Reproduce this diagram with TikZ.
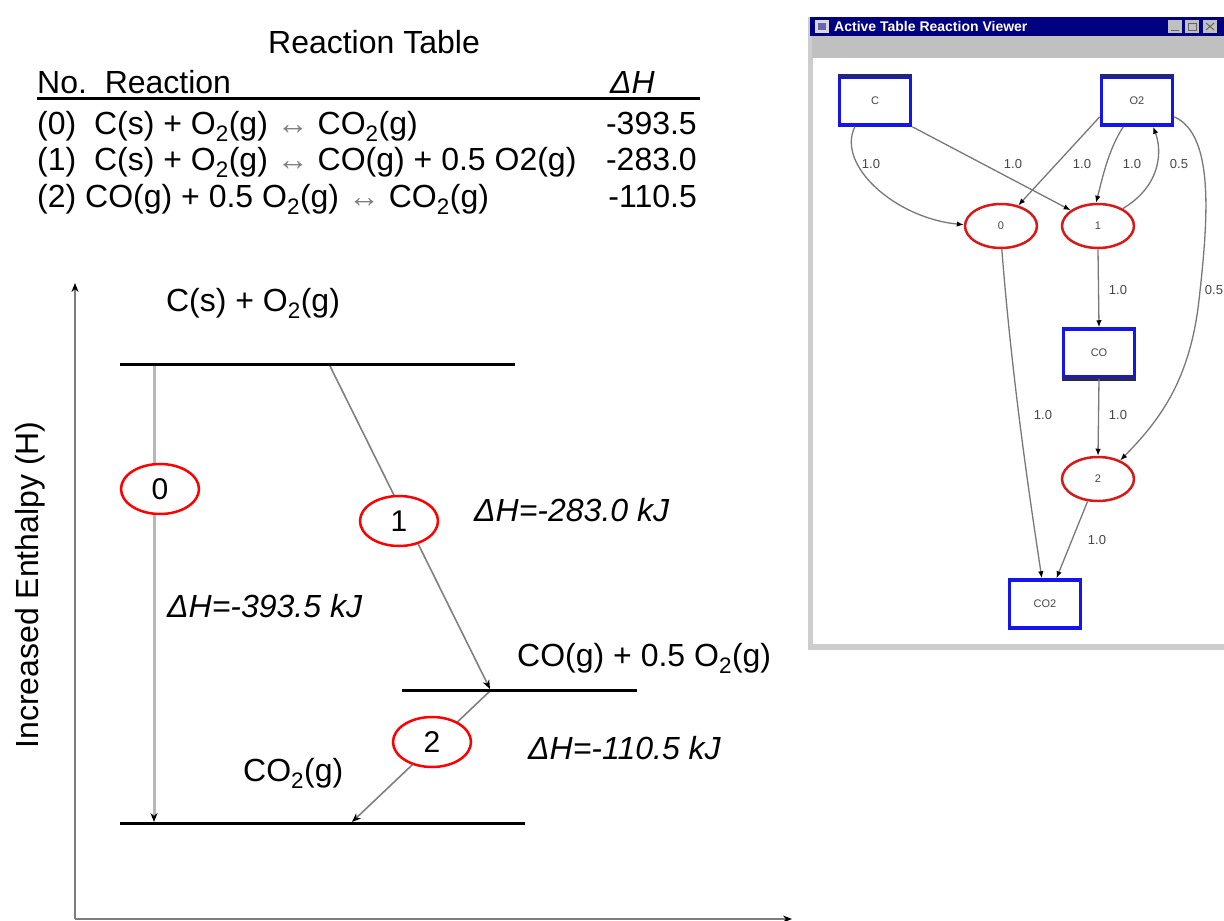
\documentclass[tikz,border=0pt]{standalone}
\usepackage{fontspec}
\setmainfont{Liberation Sans}
\usetikzlibrary{shapes.geometric,arrows.meta}
\definecolor{navy}{RGB}{0,0,128}
\definecolor{menugray}{RGB}{192,192,192}
\definecolor{winborder}{RGB}{205,205,205}
\definecolor{axisgray}{RGB}{125,125,125}
\definecolor{edgegray}{RGB}{120,120,120}
\definecolor{boxblue}{RGB}{20,20,235}
\definecolor{boxdark}{RGB}{40,40,90}
\definecolor{ringred}{RGB}{215,25,25}
\definecolor{txtgray}{RGB}{70,70,70}
\tikzset{
  big/.style={font=\fontsize{32}{36}\selectfont, inner sep=0pt},
  dh/.style={font=\fontsize{32}{36}\selectfont\itshape, inner sep=0pt},
  level/.style={line width=3pt, black},
  axisline/.style={draw=axisgray, line width=2.5pt, -{Stealth[length=9pt,width=7pt,color=black]}},
  rxnL/.style={ellipse, draw=red, line width=2.5pt, fill=white, minimum width=78pt, minimum height=50pt, inner sep=0pt, font=\fontsize{30}{30}\selectfont},
  pathzero/.style={draw=black!28, line width=3pt, -{Stealth[length=9pt,width=7pt,color=black]}},
  paththin/.style={draw=black!50, line width=1.6pt, -{Stealth[length=9pt,width=7pt,color=black]}},
  spbox/.style={rectangle, draw=boxblue, line width=3.5pt, fill=white, minimum width=71pt, minimum height=48pt, inner sep=0pt, font=\fontsize{11}{11}\selectfont, text=txtgray},
  rxnR/.style={ellipse, draw=ringred, line width=2.5pt, fill=white, minimum width=72pt, minimum height=44pt, inner sep=0pt, font=\fontsize{11}{11}\selectfont, text=txtgray},
  edge/.style={draw=edgegray, line width=1.3pt, -{Latex[length=7pt,width=5.5pt,color=black]}},
  elab/.style={font=\fontsize{13}{13}\selectfont, text=txtgray, inner sep=0pt},
  darkedge/.style={draw=boxdark, line width=3.5pt}
}
\begin{document}
\begin{tikzpicture}[x=1pt,y=-1pt]
\useasboundingbox (0,0) rectangle (1224,921);
\fill[white] (0,0) rectangle (1224,921);

% ---------------- Reaction table ----------------
\node[big, anchor=base] (ttl) at (374,53) {Reaction Table};
\node[big, anchor=base west] (hdr) at (37,93) {No.\ \ Reaction};
\node[dh, anchor=base east] (hdh) at (655,93) {ΔH};
\coordinate (rulel) at (37,98);
\coordinate (ruler) at (700,98);
\draw[line width=3pt] (rulel) -- (ruler);
\node[big, anchor=base west] (row0) at (37,134) {(0)\ \ C(s) + O\textsubscript{2}(g) {\color{gray}↔} CO\textsubscript{2}(g)};
\node[big, anchor=base west] (row1) at (37,170) {(1)\ \ C(s) + O\textsubscript{2}(g) {\color{gray}↔} CO(g) + 0.5 O2(g)};
\node[big, anchor=base west] (row2) at (37,207) {(2) CO(g) + 0.5 O\textsubscript{2}(g) {\color{gray}↔} CO\textsubscript{2}(g)};
\node[big, anchor=base east] (v0) at (697,134) {-393.5};
\node[big, anchor=base east] (v1) at (697,170) {-283.0};
\node[big, anchor=base east] (v2) at (697,207) {-110.5};

% ---------------- Enthalpy diagram ----------------
\coordinate (org) at (75,919);
\coordinate (ytop) at (75,283);
\coordinate (xend) at (792,919);
\draw[axisline] (org) -- (ytop);
\draw[axisline] (org) -- (xend);
\node[big, rotate=90] (ylab) at (30,585) {Increased Enthalpy (H)};

\coordinate (tl) at (120,364); \coordinate (tr) at (515,364);
\coordinate (ml) at (402,690); \coordinate (mr) at (637,690);
\coordinate (bl) at (120,823); \coordinate (br) at (525,823);

\coordinate (a0s) at (154,366); \coordinate (a0e) at (154,822);
\coordinate (a1s) at (330,366); \coordinate (a1e) at (490,689);
\coordinate (a2s) at (490,691); \coordinate (a2e) at (352,822);
\draw[pathzero] (a0s) -- (a0e);
\draw[paththin] (a1s) -- (a1e);
\draw[paththin] (a2s) -- (a2e);

\draw[level] (tl) -- (tr);
\draw[level] (ml) -- (mr);
\draw[level] (bl) -- (br);

\node[rxnL] (c0) at (160,489) {0};
\node[rxnL] (c1) at (399,521) {1};
\node[rxnL] (c2) at (432,742) {2};

\node[big, anchor=base] (ltop) at (253,311) {C(s) + O\textsubscript{2}(g)};
\node[big, anchor=base west] (lmid) at (517,666) {CO(g) + 0.5 O\textsubscript{2}(g)};
\node[big, anchor=base west] (lbot) at (243,781) {CO\textsubscript{2}(g)};
\node[dh, anchor=base west] (dh1) at (474,521) {ΔH=-283.0 kJ};
\node[dh, anchor=base west] (dh0) at (167,617) {ΔH=-393.5 kJ};
\node[dh, anchor=base west] (dh2) at (528,759) {ΔH=-110.5 kJ};

% ---------------- Viewer window ----------------
\fill[winborder] (808,17) rectangle (1224,650);
\fill[navy] (810,17) rectangle (1224,36);
\fill[menugray] (812,36) rectangle (1224,58);
\fill[white] (813,58) rectangle (1224,644);
\fill[black!15] (815,20) rectangle (829,33);
\fill[navy!60] (818,23) rectangle (826,30);
\node[anchor=west, text=white, font=\bfseries\fontsize{14}{14}\selectfont, inner sep=0pt] (wtitle) at (834,26.5) {Active Table Reaction Viewer};
\fill[menugray] (1168,20) rectangle (1182,33);
\fill[menugray] (1185,20) rectangle (1199,33);
\fill[menugray] (1203,20) rectangle (1217,33);
\draw[black!60, line width=1pt] (1171,30) -- (1179,30);
\draw[black!60, line width=1pt] (1188,23) rectangle (1196,30);
\draw[black!60, line width=1pt] (1206,23) -- (1214,30) (1214,23) -- (1206,30);

\node[spbox] (nC) at (875,101) {C};
\node[spbox] (nO2) at (1137,101) {O2};
\node[spbox] (nCO) at (1099,353) {CO};
\node[spbox] (nCO2) at (1045,604) {CO2};
\draw[darkedge] (nC.north west) -- (nC.north east);
\draw[darkedge] (nO2.north west) -- (nO2.north east);
\draw[darkedge] (nCO.south west) -- (nCO.south east);
\node[rxnR] (r0) at (1001,226) {0};
\node[rxnR] (r1) at (1098,226) {1};
\node[rxnR] (r2) at (1098,479) {2};

\draw[edge] (nC.232) .. controls (836,165) and (895,218) .. (r0.178);
\draw[edge] (nC.south east) -- (r1.150);
\draw[edge] (nO2.203) -- (r0.50);
\draw[edge] (nO2.242) .. controls (1108,150) and (1102,180) .. (r1.95);
\draw[edge] (r1.35) .. controls (1162,185) and (1162,150) .. (nO2.302);
\draw[edge] (nO2.337) .. controls (1215,135) and (1208,220) .. (1199,300) .. controls (1190,380) and (1160,420) .. (r2.40);
\draw[edge] (r1.south) -- (nCO.north);
\draw[edge] (nCO.south) -- (r2.north);
\draw[edge] (r0.272) .. controls (1012,380) and (1030,500) .. (nCO2.97);
\draw[edge] (r2.245) -- (nCO2.66);

\node[elab] (l1) at (871,164) {1.0};
\node[elab] (l2) at (1013,164) {1.0};
\node[elab] (l3) at (1082,164) {1.0};
\node[elab] (l4) at (1132,164) {1.0};
\node[elab] (l5) at (1179,164) {0.5};
\node[elab] (l6) at (1118,290) {1.0};
\node[elab] (l7) at (1214,290) {0.5};
\node[elab] (l8) at (1043,415) {1.0};
\node[elab] (l9) at (1118,415) {1.0};
\node[elab] (l10) at (1097,540) {1.0};
\end{tikzpicture}
\end{document}
